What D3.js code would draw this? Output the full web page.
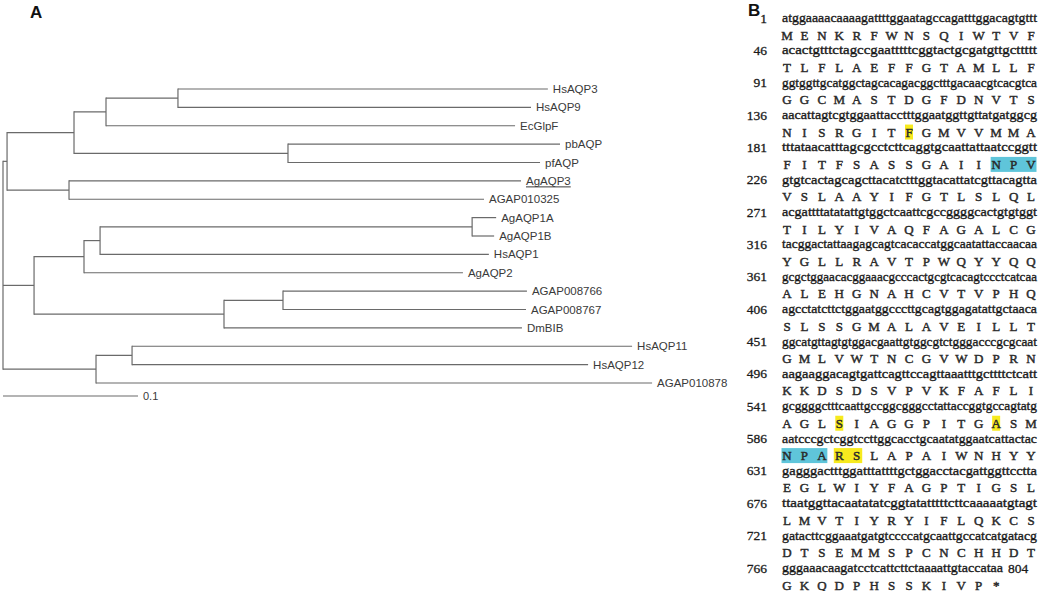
<!DOCTYPE html>
<html><head><meta charset="utf-8">
<script src="https://cdn.jsdelivr.net/npm/d3@7"></script>
<style>
html,body{margin:0;padding:0;background:#fff;}
svg{display:block;}
</style></head>
<body>
<svg id="chart" width="1050" height="591"></svg>
<script>
// ---------- Panel A: phylogenetic tree ----------
const nodeIds = ["root","c1","c1a","c1a1","c1a1a","HsAQP3","HsAQP9","EcGlpF","c1a2","pbAQP","pfAQP","c1b","AgAQP3","AGAP010325",
  "c2","c2a","c2a1","c2a1a","AgAQP1A","AgAQP1B","HsAQP1","AgAQP2","c2b","c2b1","AGAP008766","AGAP008767","DmBIB",
  "c3","c3a","HsAQP11","HsAQP12","AGAP010878"];
const parentIds = ["","root","c1","c1a","c1a1","c1a1a","c1a1a","c1a1","c1a","c1a2","c1a2","c1","c1b","c1b",
  "root","c2","c2a","c2a1","c2a1a","c2a1a","c2a1","c2a","c2","c2b","c2b1","c2b1","c2b",
  "root","c3","c3a","c3a","c3"];
const branchLengths = [0,0.003,0.0496,0.0237,0.0533,0.274,0.2615,0.303,0.1585,0.2015,0.1867,0.0459,0.3348,0.3074,
  0.023,0.037,0.0119,0.2756,0.0178,0.0163,0.288,0.2807,0.1407,0.0437,0.1807,0.18,0.2207,
  0.0689,0.0267,0.3704,0.3378,0.4119];
const underlinedLeaves = ["AgAQP3"];
const scaleBarValue = 0.1;
const scaleBarLabel = "0.1";

// ---------- Panel B: sequence ----------
const seqStarts = [1,46,91,136,181,226,271,316,361,406,451,496,541,586,631,676,721,766];
const nucRows = [
"atggaaaacaaaagattttggaatagccagatttggacagtgttt",
"acactgtttctagccgaatttttcggtactgcgatgttgcttttt",
"ggtggttgcatggctagcacagacggctttgacaacgtcacgtca",
"aacattagtcgtggaattacctttggaatggttgttatgatggcg",
"tttataacatttagcgcctcttcaggtgcaattattaatccggtt",
"gtgtcactagcagcttacatctttggtacattatcgttacagtta",
"acgattttatatattgtggctcaattcgccggggcactgtgtggt",
"tacggactattaagagcagtcacaccatggcaatattaccaacaa",
"gcgctggaacacggaaacgcccactgcgtcacagtccctcatcaa",
"agcctatcttctggaatggcccttgcagtggagatattgctaaca",
"ggcatgttagtgtggacgaattgtggcgtctgggacccgcgcaat",
"aagaaggacagtgattcagttccagttaaatttgcttttctcatt",
"gcggggctttcaattgccggcgggcctattaccggtgccagtatg",
"aatcccgctcggtccttggcacctgcaatatggaatcattactac",
"gagggactttggatttattttgctggacctacgattggttcctta",
"ttaatggttacaatatatcggtatatttttcttcaaaaatgtagt",
"gatacttcggaaatgatgtccccatgcaattgccatcatgatacg",
"gggaaacaagatcctcattcttctaaaattgtaccataa"];
const aaRows = [
"MENKRFWNSQIWTVF","TLFLAEFFGTAMLLF","GGCMASTDGFDNVTS","NISRGITFGMVVMMA","FITFSASSGAIINPV",
"VSLAAYIFGTLSLQL","TILYIVAQFAGALCG","YGLLRAVTPWQYYQQ","ALEHGNAHCVTVPHQ","SLSSGMALAVEILLT",
"GMLVWTNCGVWDPRN","KKDSDSVPVKFAFLI","AGLSIAGGPITGASM","NPARSLAPAIWNHYY","EGLWIYFAGPTIGSL",
"LMVTIYRYIFLQKCS","DTSEMMSPCNCHHDT","GKQDPHSSKIVP*"];
const seqEndLabel = "804";
const hlRow   = [3, 4, 12, 12, 13, 13];
const hlStart = [7, 12, 3, 12, 0, 3];
const hlEnd   = [7, 14, 3, 12, 2, 4];
const hlKind  = ["yellow","cyan","yellow","yellow","cyan","yellow"];

const svg = d3.select("#chart");
svg.append("rect").attr("width",1050).attr("height",591).attr("fill","#fff");

// panel letters
svg.append("text").attr("x",30).attr("y",18).text("A")
  .attr("font-family","Liberation Sans, Arial, sans-serif").attr("font-weight","bold").attr("font-size",17).attr("fill","#111");
svg.append("text").attr("x",748).attr("y",16).text("B")
  .attr("font-family","Liberation Sans, Arial, sans-serif").attr("font-weight","bold").attr("font-size",17).attr("fill","#111");

// ---- tree ----
const table = nodeIds.map((id,i)=>({id, parent: parentIds[i] || null, len: branchLengths[i]}));
const root = d3.stratify().id(d=>d.id).parentId(d=>d.parent)(table);
root.eachBefore(n => { n.dist = n.parent ? n.parent.dist + n.data.len : 0; });
const leaves = root.leaves();
const xS = d3.scaleLinear().domain([0, 0.1]).range([3, 138]);
const yS = d3.scalePoint().domain(leaves.map(d=>d.id)).range([89, 383]);
root.eachAfter(n => {
  if (!n.children) n.yy = yS(n.id);
  else n.yy = (n.children[0].yy + n.children[n.children.length-1].yy)/2;
});
const lineColor = "#6a6a6a";
const gT = svg.append("g");
gT.selectAll("line.h").data(root.descendants().filter(n=>n.parent)).join("line")
  .attr("x1", n=>xS(n.parent.dist)).attr("x2", n=>xS(n.dist))
  .attr("y1", n=>n.yy).attr("y2", n=>n.yy)
  .attr("stroke", lineColor).attr("stroke-width",1.2);
gT.selectAll("line.v").data(root.descendants().filter(n=>n.children)).join("line")
  .attr("x1", n=>xS(n.dist)).attr("x2", n=>xS(n.dist))
  .attr("y1", n=>n.children[0].yy - 0.6).attr("y2", n=>n.children[n.children.length-1].yy + 0.6)
  .attr("stroke", lineColor).attr("stroke-width",1.2);
const labs = gT.selectAll("text.leaf").data(leaves).join("text")
  .attr("x", n=>xS(n.dist)+5).attr("y", n=>n.yy)
  .attr("dominant-baseline","central")
  .attr("font-family","Liberation Sans, Arial, sans-serif").attr("font-size",11.5).attr("fill","#3a3a3a")
  .text(n=>n.id);
labs.each(function(n){
  if (underlinedLeaves.includes(n.id)) {
    const bb = this.getBBox();
    gT.append("line").attr("x1",bb.x).attr("x2",bb.x+bb.width)
      .attr("y1",n.yy+6).attr("y2",n.yy+6).attr("stroke","#3a3a3a").attr("stroke-width",1);
  }
});
gT.append("line").attr("x1",xS(0)).attr("x2",xS(scaleBarValue)).attr("y1",396).attr("y2",396)
  .attr("stroke",lineColor).attr("stroke-width",1.2);
gT.append("text").attr("x",xS(scaleBarValue)+5).attr("y",396).attr("dominant-baseline","central")
  .attr("font-family","Liberation Sans, Arial, sans-serif").attr("font-size",11).attr("fill","#3a3a3a").text(scaleBarLabel);

// ---- sequence panel ----
const rowY = d3.scaleLinear().domain([0, seqStarts.length-1]).range([18, 568]);
const nucX = d3.scaleLinear().domain([0, 45]).range([782, 1037]);
const aaX = d3.scaleLinear().domain([0, 14]).range([787, 1031]);
const aaOffset = 17;
const serif = "Liberation Serif, 'Times New Roman', serif";
const gS = svg.append("g");
const hlColors = {yellow:"#f7ea1e", cyan:"#5fc5da"};
gS.selectAll("rect.hl").data(hlRow.map((r,i)=>({r, s:hlStart[i], e:hlEnd[i], k:hlKind[i]}))).join("rect")
  .attr("x", d=>aaX(d.s) - (d.s===d.e ? 4 : 5.5))
  .attr("width", d=>aaX(d.e) - aaX(d.s) + (d.s===d.e ? 8 : 11))
  .attr("y", d=>rowY(d.r)+aaOffset-7.5).attr("height",15)
  .attr("fill", d=>hlColors[d.k]);
gS.selectAll("text.num").data(seqStarts).join("text")
  .attr("x",767).attr("y",(d,i)=>rowY(i)).attr("dominant-baseline","central").attr("text-anchor","end")
  .attr("font-family",serif).attr("font-size",13.5).attr("fill","#1a1a1a")
  .attr("stroke","#1a1a1a").attr("stroke-width",0.3).text(d=>d);
gS.selectAll("text.nuc").data(nucRows).join("text")
  .attr("x",nucX(0)).attr("y",(d,i)=>rowY(i)).attr("dominant-baseline","central")
  .attr("textLength", d=>nucX(d.length)-nucX(0)).attr("lengthAdjust","spacingAndGlyphs")
  .attr("font-family",serif).attr("font-size",12.5).attr("fill","#1a1a1a")
  .attr("stroke","#1a1a1a").attr("stroke-width",0.35).text(d=>d);
gS.append("text").attr("x", nucX(nucRows[nucRows.length-1].length)+5).attr("y", rowY(seqStarts.length-1))
  .attr("dominant-baseline","central").attr("font-family",serif).attr("font-size",13.5).attr("fill","#1a1a1a")
  .attr("stroke","#1a1a1a").attr("stroke-width",0.3).text(seqEndLabel);
aaRows.forEach((row,i)=>{
  gS.selectAll(null).data(row.split("")).join("text")
    .attr("x",(d,j)=>aaX(j)).attr("y", rowY(i)+aaOffset).attr("dominant-baseline","central")
    .attr("text-anchor","middle").attr("font-family",serif).attr("font-size",13)
    .attr("fill","#2a2a2a").attr("stroke","#2a2a2a").attr("stroke-width",0.45).text(d=>d);
});
</script>
</body></html>
